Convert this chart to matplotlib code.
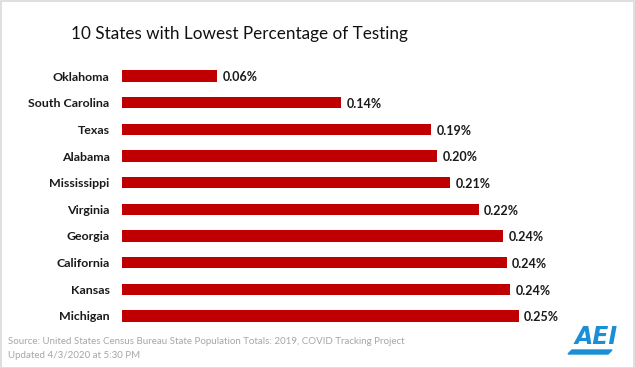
import matplotlib
matplotlib.use("Agg")
import matplotlib.pyplot as plt
from matplotlib.patches import Rectangle, Polygon

states = ["Oklahoma", "South Carolina", "Texas", "Alabama", "Mississippi",
          "Virginia", "Georgia", "California", "Kansas", "Michigan"]
values = [0.0599, 0.138, 0.1949, 0.1985, 0.207, 0.2249, 0.2405, 0.2425, 0.2449, 0.250]
value_labels = ["0.06%", "0.14%", "0.19%", "0.20%", "0.21%",
                "0.22%", "0.24%", "0.24%", "0.24%", "0.25%"]
title = "10 States with Lowest Percentage of Testing"
source1 = "Source: United States Census Bureau State Population Totals: 2019, COVID Tracking Project"
source2 = "Updated 4/3/2020 at 5:30 PM"

W, H = 635, 368
fig = plt.figure(figsize=(W / 100, H / 100), dpi=100)
fig.patch.set_facecolor("white")

ax_left, ax_right = 122, 598
ax_top, ax_bot = 62.7, 329.3
ax = fig.add_axes([ax_left / W, 1 - ax_bot / H, (ax_right - ax_left) / W, (ax_bot - ax_top) / H])
ypos = list(range(len(states)))
ax.barh(ypos, values, height=0.42, color="#C00000", edgecolor="none")
ax.set_xlim(0, (ax_right - ax_left) / 1586.0)
ax.set_ylim(len(states) - 0.5, -0.5)
for s in ax.spines.values():
    s.set_visible(False)
ax.set_xticks([])
ax.set_yticks(ypos)
ax.set_yticklabels(states, fontfamily="Lato", fontweight="bold", fontsize=8.9, color="#1a1a1a")
ax.tick_params(axis="y", length=0, pad=9)
for y, v, lab in zip(ypos, values, value_labels):
    ax.annotate(lab, (v, y), xytext=(4, -1), textcoords="offset points",
                va="center", ha="left", fontfamily="Lato", fontweight="bold",
                fontsize=9, color="#1a1a1a")

fig.text(239 / W, 1 - 34 / H, title, ha="center", va="center",
         fontfamily="Lato", fontsize=12.3, color="#111111")
fig.text(8 / W, 1 - 341 / H, source1, ha="left", va="center",
         fontfamily="Lato", fontsize=7.05, color="#A6A6A6")
fig.text(8 / W, 1 - 356 / H, source2, ha="left", va="center",
         fontfamily="Lato", fontsize=7.05, color="#A6A6A6")

# AEI logo
blue = "#1A8FD6"
fig.text(596 / W, 1 - 337 / H, "AEI", ha="center", va="center", fontfamily="DejaVu Sans",
         fontweight="bold", fontstyle="italic", fontsize=17, color=blue)
fig.patches.append(Polygon([(572 / W, 1 - 350 / H), (612 / W, 1 - 350 / H),
                            (608 / W, 1 - 354 / H), (568 / W, 1 - 354 / H)],
                           closed=True, transform=fig.transFigure, color=blue))

# border
fig.patches.append(Rectangle((0.5 / W, 0.5 / H), 1 - 1.5 / W, 1 - 1.5 / H, transform=fig.transFigure,
                             fill=False, edgecolor="#D9D9D9", linewidth=1.2))

fig.savefig("out.png", dpi=100)
